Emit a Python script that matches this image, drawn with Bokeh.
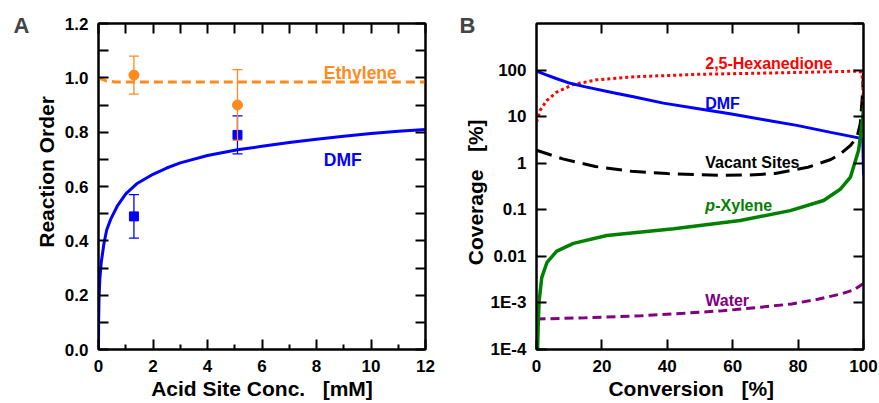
from bokeh.plotting import figure
from bokeh.layouts import row
from bokeh.models import (Range1d, LinearAxis, LogAxis, FixedTicker,
                          ColumnDataSource, Whisker, TeeHead, CustomJSTickFormatter,
                          NumeralTickFormatter)
from bokeh.core.properties import value
from bokeh.embed import file_html
from bokeh.resources import INLINE

FONT = "Liberation Sans"
ORANGE = "#FF8A1E"
BLUE = "#0000FF"
RED = "#FF0000"
GREEN = "#008000"
PURPLE = "#800080"

# ---------------- Panel A data ----------------
acid_conc = [1.3, 5.1]
eth_order = [1.01, 0.90]
eth_lo = [0.94, 0.77]
eth_hi = [1.08, 1.03]
dmf_order = [0.49, 0.79]
dmf_lo = [0.41, 0.72]
dmf_hi = [0.57, 0.86]
eth_fit_x = [0, 0.3, 0.6, 12]
eth_fit_y = [1.0, 0.988, 0.985, 0.985]
dmf_fit_x = [0, 0.005, 0.02, 0.05, 0.1, 0.2, 0.3, 0.45, 0.7, 1.0, 1.4, 2.0, 2.5, 3.0,
             4.0, 5.1, 6.0, 7.0, 8.0, 9.0, 10.0, 11.0, 12.0]
dmf_fit_y = [0, 0.10, 0.19, 0.26, 0.32, 0.39, 0.44, 0.48, 0.53, 0.573, 0.61, 0.645, 0.668,
             0.687, 0.714, 0.735, 0.748, 0.762, 0.774, 0.785, 0.795, 0.803, 0.81]
order_ticks = [0.0, 0.2, 0.4, 0.6, 0.8, 1.0, 1.2]
order_minor = [0.1, 0.3, 0.5, 0.7, 0.9, 1.1]
conc_ticks = [0, 2, 4, 6, 8, 10, 12]
conc_minor = [1, 3, 5, 7, 9, 11]

# ---------------- Panel B data ----------------
hex_x = [0, 1.1, 3.1, 6.2, 11.3, 18.5, 28.6, 49, 69.4, 90, 98, 99.5, 99.8, 100]
hex_y = [7.6, 13.6, 22, 33.6, 49, 62, 71, 81, 86, 92, 95, 90, 50, 16]
dmfB_x = [0, 3, 6, 10.3, 15, 23.5, 30, 38.8, 50, 59.2, 70, 79.6, 90, 98.5, 99.8, 100]
dmfB_y = [95, 79, 66, 52, 43.6, 32.7, 26.3, 19.5, 14.6, 11.5, 8.5, 6.5, 4.6, 3.5, 3.2, 0.55]
vac_x = [0, 8, 18, 29, 40, 50, 57, 65, 73, 83, 90, 93, 96, 98, 99, 99.6, 99.9, 100]
vac_y = [1.9, 1.24, 0.85, 0.67, 0.6, 0.57, 0.55, 0.56, 0.6, 0.82, 1.2, 1.6, 2.4, 3.6, 7,
         25, 60, 85]
xyl_x = [0.3, 0.5, 0.8, 1.6, 3.2, 6.2, 11.3, 21.5, 42, 62.3, 77.6, 87.8, 93, 96, 98.5,
         99.3, 99.8, 100]
xyl_y = [8e-5, 3e-4, 1.1e-3, 3.5e-3, 7.4e-3, 0.013, 0.019, 0.028, 0.039, 0.059, 0.096,
         0.158, 0.28, 0.5, 1.9, 5, 10, 16]
water_x = [0, 15, 32, 45, 57, 68, 78, 86, 93, 97, 100]
water_y = [4.5e-4, 4.8e-4, 5.3e-4, 6e-4, 6.8e-4, 8e-4, 9.5e-4, 1.2e-3, 1.55e-3, 1.9e-3,
           2.6e-3]
conv_ticks = [0, 20, 40, 60, 80, 100]
cov_ticks = [1e-4, 1e-3, 0.01, 0.1, 1, 10, 100]
cov_labels = ["1E-4", "1E-3", "0.01", "0.1", "1", "10", "100"]

NB = "\u00a0"


def style_axis(ax, size="17px", tick_len=10):
    ax.axis_line_width = 2
    ax.axis_line_color = "black"
    ax.major_tick_in = tick_len
    ax.major_tick_out = 0
    ax.minor_tick_out = 0
    ax.major_tick_line_width = 2
    ax.minor_tick_line_width = 2
    ax.major_tick_line_color = "black"
    ax.minor_tick_line_color = "black"
    ax.major_label_text_font = FONT
    ax.major_label_text_font_style = "bold"
    ax.major_label_text_font_size = size
    ax.major_label_text_color = "black"
    ax.axis_label_text_font = FONT
    ax.axis_label_text_font_style = "bold"
    ax.axis_label_text_font_size = "21px"
    ax.axis_label_text_color = "black"


def blank_axis(ax):
    style_axis(ax)
    ax.formatter = CustomJSTickFormatter(code="return ''")
    ax.major_label_text_font_size = "0px"
    ax.major_label_standoff = 0


def base_fig(width, letter, letter_offset, **kw):
    p = figure(width=width, height=403, output_backend="svg", toolbar_location=None,
               min_border_top=23, min_border_bottom=54, title=letter, **kw)
    p.xgrid.visible = False
    p.ygrid.visible = False
    p.outline_line_color = "black"
    p.outline_line_width = 2
    p.background_fill_color = "white"
    p.border_fill_color = "white"
    p.title.align = "left"
    p.title.offset = letter_offset
    p.title.text_font = FONT
    p.title.text_font_style = "bold"
    p.title.text_font_size = "22px"
    p.title.standoff = -29
    return p


# ================= Panel A =================
pA = base_fig(440, "A", -85, x_range=Range1d(0, 12), y_range=Range1d(0, 1.2),
              min_border_left=98, min_border_right=15)
xa = pA.xaxis[0]
style_axis(xa)
xa.ticker = FixedTicker(ticks=conc_ticks, minor_ticks=conc_minor)
xa.minor_tick_in = 5
xa.major_label_standoff = 10
xa.axis_label = "Acid Site Conc." + NB * 3 + "[mM]"
xa.axis_label_standoff = 2
ya = pA.yaxis[0]
style_axis(ya)
ya.ticker = FixedTicker(ticks=order_ticks, minor_ticks=order_minor)
ya.minor_tick_in = 10
ya.formatter = NumeralTickFormatter(format="0.0")
ya.major_label_standoff = 10
ya.axis_label = NB * 5 + "Reaction Order"
ya.axis_label_standoff = 4

topA = LinearAxis(ticker=FixedTicker(ticks=conc_ticks + conc_minor, minor_ticks=[]))
blank_axis(topA)
pA.add_layout(topA, "above")
rightA = LinearAxis(ticker=FixedTicker(ticks=order_ticks + order_minor, minor_ticks=[]))
blank_axis(rightA)
pA.add_layout(rightA, "right")

pA.line(eth_fit_x, eth_fit_y, line_color=ORANGE, line_width=3, line_dash="9 5")
pA.line(dmf_fit_x, dmf_fit_y, line_color=BLUE, line_width=3)

eth_src = ColumnDataSource(dict(x=acid_conc, lo=eth_lo, hi=eth_hi))
dmf_src = ColumnDataSource(dict(x=acid_conc, lo=dmf_lo, hi=dmf_hi))
pA.add_layout(Whisker(source=dmf_src, base="x", lower="lo", upper="hi", dimension="height",
                      line_color=BLUE, line_width=1.3,
                      upper_head=TeeHead(size=10, line_color=BLUE, line_width=1.3),
                      lower_head=TeeHead(size=10, line_color=BLUE, line_width=1.3)))
pA.scatter(acid_conc, eth_order, marker="circle", size=10, color=ORANGE)
pA.scatter(acid_conc, dmf_order, marker="square", size=9, color=BLUE)
pA.add_layout(Whisker(source=eth_src, base="x", lower="lo", upper="hi", dimension="height",
                      line_color=ORANGE, line_width=1.3, level="annotation",
                      upper_head=TeeHead(size=10, line_color=ORANGE, line_width=1.3),
                      lower_head=TeeHead(size=10, line_color=ORANGE, line_width=1.3)))

pA.text(x=[8.27], y=[1.017], text=["Ethylene"], text_font=value(FONT),
        text_font_style="bold", text_font_size="17.5px", text_color=ORANGE,
        text_align="left", text_baseline="alphabetic")
pA.text(x=[8.27], y=[0.696], text=["DMF"], text_font=value(FONT),
        text_font_style="bold", text_font_size="17.5px", text_color=BLUE,
        text_align="left", text_baseline="alphabetic")

# ================= Panel B =================
pB = base_fig(439, "B", -77, x_range=Range1d(0, 100), y_range=Range1d(1e-4, 1e3),
              y_axis_type="log", min_border_left=96, min_border_right=16)
xb = pB.xaxis[0]
style_axis(xb)
xb.ticker = FixedTicker(ticks=conv_ticks, minor_ticks=[])
xb.major_label_standoff = 10
xb.axis_label = "Conversion" + NB * 3 + "[%]" + NB * 3
xb.axis_label_standoff = 2
yb = pB.yaxis[0]
style_axis(yb)
yb.ticker = FixedTicker(ticks=cov_ticks, minor_ticks=[])
yb.major_label_overrides = dict(zip(cov_ticks, cov_labels))
yb.major_label_standoff = 10
yb.axis_label = "Coverage" + NB * 3 + "[%]" + NB * 2
yb.axis_label_standoff = 1

topB = LinearAxis(ticker=FixedTicker(ticks=[20, 40, 60, 80], minor_ticks=[]))
blank_axis(topB)
pB.add_layout(topB, "above")
rightB = LogAxis(ticker=FixedTicker(ticks=cov_ticks + [1000], minor_ticks=[]))
blank_axis(rightB)
pB.add_layout(rightB, "right")

pB.line(water_x, water_y, line_color=PURPLE, line_width=3, line_dash="9 5")
pB.line(vac_x, vac_y, line_color="black", line_width=3, line_dash="16 8")
pB.line(hex_x, hex_y, line_color=RED, line_width=3, line_dash="3 3")
pB.line(dmfB_x, dmfB_y, line_color=BLUE, line_width=3)
pB.line(xyl_x, xyl_y, line_color=GREEN, line_width=3.5)


def btext(x, y, t, col, style="bold", xoff=0):
    pB.text(x=[x], y=[y], text=[t], text_font=value(FONT), text_font_style=style,
            text_font_size="16px", text_color=col, text_align="left",
            text_baseline="alphabetic", x_offset=xoff)


btext(51.6, 141, "2,5-Hexanedione", RED)
btext(51.6, 18.9, "DMF", BLUE)
btext(51.6, 1.05, "Vacant Sites", "black")
btext(51.6, 0.123, "p", GREEN, style="bold italic")
btext(51.6, 0.123, "-Xylene", GREEN, xoff=10)
btext(51.6, 1.11e-3, "Water", PURPLE)

layout = row(pA, pB)
open("out.html", "w").write(file_html(layout, INLINE))
